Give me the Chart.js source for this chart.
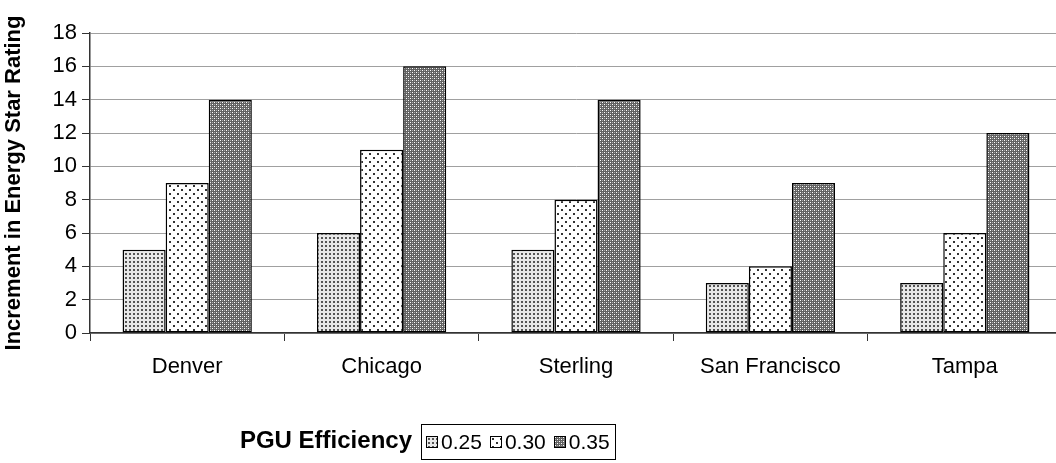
<!DOCTYPE html>
<html>
<head>
<meta charset="utf-8">
<script src="https://cdn.jsdelivr.net/npm/chart.js@4"></script>
<style>
  html, body { margin: 0; padding: 0; background: #fff; overflow: hidden; }
  body { width: 1056px; height: 463px; position: relative; font-family: "Liberation Sans", Arial, sans-serif; }
  #chart { position: absolute; left: 0; top: 0; }
  #legendTitle { position: absolute; right: 644px; top: 426px; font-weight: bold; font-size: 24px; color: #000; }
  #legendBox { position: absolute; left: 421px; top: 424px; height: 34px; border: 1px solid #000;
    display: flex; align-items: center; padding: 0 5px 0 4px; font-size: 21px; color: #000; background: #fff; }
  .item { display: flex; align-items: center; margin-right: 8px; }
  .item:last-child { margin-right: 0; }
  .item canvas { border: 1px solid #000; margin-right: 3px; }
</style>
</head>
<body>
<canvas id="chart" width="1064" height="463"></canvas>
<div id="legendTitle">PGU Efficiency</div>
<div id="legendBox"></div>
<script>
const cities = ["Denver", "Chicago", "Sterling", "San Francisco", "Tampa"];
const efficiencies = ["0.25", "0.30", "0.35"];
const eff025 = [5, 6, 5, 3, 3];
const eff030 = [9, 11, 8, 4, 6];
const eff035 = [14, 16, 14, 9, 12];
const yTicks = [0, 2, 4, 6, 8, 10, 12, 14, 16, 18];

// little tiles to fake the old excel fill patterns
function makePattern(kind) {
  const c = document.createElement("canvas");
  const ctx = c.getContext("2d");
  if (kind === 0) {
    c.width = 4; c.height = 4;
    ctx.fillStyle = "#e8e8e8";
    ctx.fillRect(0, 0, 4, 4);
    ctx.fillStyle = "#555";
    ctx.fillRect(1, 1, 2, 2);
  } else if (kind === 1) {
    c.width = 8; c.height = 8;
    ctx.fillStyle = "#fff";
    ctx.fillRect(0, 0, 8, 8);
    ctx.fillStyle = "#333";
    ctx.fillRect(1, 1, 2, 2);
    ctx.fillRect(5, 5, 2, 2);
  } else {
    c.width = 4; c.height = 4;
    ctx.fillStyle = "#626262";
    ctx.fillRect(0, 0, 4, 4);
    ctx.fillStyle = "#fff";
    ctx.fillRect(0, 0, 1, 1);
    ctx.fillRect(2, 2, 1, 1);
    ctx.fillStyle = "#aaa";
    ctx.fillRect(2, 0, 1, 1);
    ctx.fillRect(0, 2, 1, 1);
  }
  return ctx.createPattern(c, "repeat");
}

const patterns = [makePattern(0), makePattern(1), makePattern(2)];
const seriesValues = [eff025, eff030, eff035];

const datasets = efficiencies.map(function (name, i) {
  return {
    label: name,
    data: seriesValues[i],
    backgroundColor: patterns[i],
    borderColor: "#000",
    borderWidth: 1.5,
    borderSkipped: false,
    categoryPercentage: 0.665,
    barPercentage: 1.0,
  };
});

const canvasRef = document.getElementById("chart");

const myChart = new Chart(canvasRef, {
  type: "bar",
  data: {
    labels: cities,
    datasets: datasets,
  },
  options: {
    responsive: false,
    animation: false,
    devicePixelRatio: 1,
    layout: { padding: { top: 33, right: 2, left: 0, bottom: 0 } },
    plugins: {
      legend: { display: false },
      tooltip: { enabled: false },
    },
    scales: {
      x: {
        grid: {
          display: true,
          offset: true,
          drawOnChartArea: false,
          drawTicks: true,
          tickLength: 8,
          color: "#333",
          lineWidth: 1,
        },
        border: { display: true, color: "#333", width: 1.5 },
        ticks: {
          color: "#000",
          padding: 13,
          font: { family: "Liberation Sans", size: 22 },
        },
        afterFit: function (scale) { scale.height = 130; },
      },
      y: {
        min: 0,
        max: 18,
        afterBuildTicks: function (scale) {
          scale.ticks = yTicks.map(function (v) { return { value: v }; });
        },
        grid: {
          color: "#a0a0a0",
          lineWidth: 1,
          tickColor: "#333",
          tickLength: 8,
        },
        border: { display: true, color: "#333", width: 1.5 },
        ticks: {
          color: "#000",
          padding: 5,
          font: { family: "Liberation Sans", size: 22 },
        },
        title: {
          display: true,
          text: "Increment in Energy Star Rating",
          color: "#000",
          padding: { top: 1, bottom: 2 },
          font: { family: "Liberation Sans", size: 22, weight: "bold" },
        },
        afterFit: function (scale) { scale.width = 90; },
      },
    },
  },
});

// legend with the same fills as the bars
const legendBox = document.getElementById("legendBox");
efficiencies.forEach(function (name, i) {
  const item = document.createElement("div");
  item.className = "item";
  const sw = document.createElement("canvas");
  sw.width = 10; sw.height = 10;
  const sctx = sw.getContext("2d");
  sctx.fillStyle = patterns[i];
  sctx.fillRect(0, 0, 10, 10);
  const txt = document.createElement("span");
  txt.textContent = name;
  item.appendChild(sw);
  item.appendChild(txt);
  legendBox.appendChild(item);
});
</script>
</body>
</html>
